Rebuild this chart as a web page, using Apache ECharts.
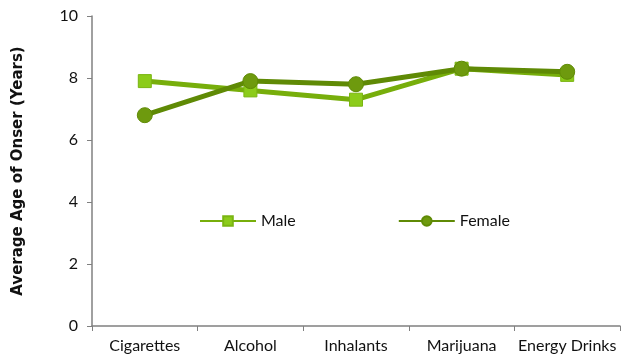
<!DOCTYPE html>
<html>
<head>
<meta charset="utf-8">
<script src="https://cdn.jsdelivr.net/npm/echarts@6/dist/echarts.min.js"></script>
<style>
  html, body { margin: 0; padding: 0; background: #fff; }
</style>
</head>
<body>
<div id="chart" style="width: 626px; height: 362px;"></div>
<script>
var categories = ['Cigarettes', 'Alcohol', 'Inhalants', 'Marijuana', 'Energy Drinks']
var maleValues = [7.9, 7.6, 7.3, 8.3, 8.1]
var femaleValues = [6.8, 7.9, 7.8, 8.3, 8.2]

var chart = echarts.init(document.getElementById('chart'))
var font = 'Lato, "Open Sans", sans-serif'

var option = {
  animation: false,
  textStyle: { fontFamily: font },
  legend: {
    left: 194,
    top: 208,
    itemWidth: 56,
    itemHeight: 12,
    itemGap: 102,
    textStyle: { fontSize: 16, color: '#111', fontFamily: font },
    data: ['Male', 'Female']
  },
  grid: { left: 92, right: 6, top: 16, bottom: 36 },
  xAxis: {
    type: 'category',
    data: categories,
    boundaryGap: true,
    axisLine: { lineStyle: { color: '#808080', width: 1.5 } },
    axisTick: { show: true, length: 5, lineStyle: { color: '#808080' } },
    axisLabel: { interval: 0, fontSize: 16, color: '#111', margin: 12 }
  },
  yAxis: {
    type: 'value',
    min: 0,
    max: 10,
    interval: 2,
    name: 'Average Age of Onser (Years)',
    nameLocation: 'middle',
    nameGap: 66,
    nameTextStyle: { fontSize: 15, fontWeight: 'bold', color: '#111', fontFamily: '"DejaVu Sans", sans-serif' },
    axisLine: { show: true, lineStyle: { color: '#808080', width: 1.5 } },
    axisTick: { show: true, length: 5, lineStyle: { color: '#808080' } },
    axisLabel: { fontSize: 16, color: '#111', margin: 14 },
    splitLine: { show: false }
  },
  series: [
    {
      name: 'Male',
      type: 'line',
      data: maleValues,
      symbol: 'rect',
      symbolSize: 13,
      lineStyle: { color: '#77ae0b', width: 5 },
      itemStyle: { color: '#8ccc1a', borderColor: '#7ab512', borderWidth: 1 }
    },
    {
      name: 'Female',
      type: 'line',
      data: femaleValues,
      symbol: 'circle',
      symbolSize: 15,
      lineStyle: { color: '#5f8a05', width: 5 },
      itemStyle: { color: '#6e9a0e', borderColor: '#5f8a05', borderWidth: 1 }
    }
  ]
}
chart.setOption(option)
</script>
</body>
</html>
